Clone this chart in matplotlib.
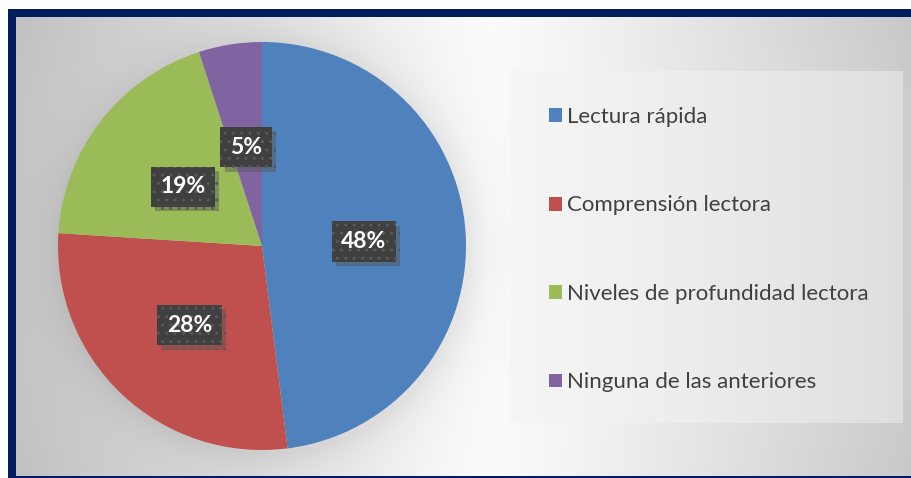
import numpy as np
import matplotlib
matplotlib.use("Agg")
import matplotlib.pyplot as plt
from matplotlib.patches import Patch
import matplotlib.patheffects as pe

categories = ["Lectura rápida", "Comprensión lectora",
              "Niveles de profundidad lectora", "Ninguna de las anteriores"]
values = [48, 28, 19, 5]
colors = ["#4f81bd", "#c0504d", "#9bbb59", "#8064a2"]

W, H = 912, 478
fig = plt.figure(figsize=(W / 100, H / 100), dpi=100)
plt.rcParams['font.family'] = ['Lato', 'DejaVu Sans']

def fx(x): return x / W
def fy(y): return 1 - y / H

cx, cy, r = 262, 246, 204

# full-canvas background: white margin, navy frame, gradient fill
yy, xx = np.mgrid[0:H, 0:W].astype(float)
dx = np.abs(xx - 490) / 470
dy = np.abs(yy - 246) / 240
val = 0.985 - 0.20 * np.clip(dx, 0, 1) ** 1.15 - 0.03 * dy ** 2 * dx
dist = np.sqrt((xx - cx - 3) ** 2 + (yy - cy - 4) ** 2) - r
val -= 0.075 * np.exp(-np.clip(dist, 0, None) / 22.0)
lx0, lx1, ly0, ly1 = 511, 903, 71, 423
inbox = (xx >= lx0) & (xx < lx1) & (yy >= ly0) & (yy < ly1)
lv = 0.96 - 0.09 * ((xx - lx0) / (lx1 - lx0)) ** 1.3
val = np.where(inbox, lv, val)
img = np.clip(np.dstack([val, val, val]), 0, 1)
navy = np.array([0x00, 0x1e, 0x5e]) / 255
frame = (xx >= 8) & (yy >= 9) & ~((xx >= 16) & (yy >= 17) & (yy < 476))
img[frame] = navy
img[(xx < 8) | (yy < 9)] = 1.0
fig.figimage(img, xo=0, yo=0, origin="upper", zorder=1)

# pie
ax = fig.add_axes([fx(cx - r), fy(cy + r), 2 * r / W, 2 * r / H], zorder=3)
wedges, _ = ax.pie(values, colors=colors, startangle=90, counterclock=False,
                   wedgeprops=dict(linewidth=0))
ax.set_xlim(-1, 1)
ax.set_ylim(-1, 1)
ax.set_aspect("auto")

label_r = [0.50, 0.52, 0.49, 0.50]
total = sum(values)
start = 90
for v, rr in zip(values, label_r):
    mid = start - v / total * 360 / 2
    start -= v / total * 360
    t = ax.text(rr * np.cos(np.radians(mid)), rr * np.sin(np.radians(mid)),
                f"{v}%", ha="center", va="center_baseline", color="white",
                fontsize=16.5, fontweight="bold",
                bbox=dict(boxstyle="square,pad=0.42", fc="#404040", ec="#595959",
                          lw=0, hatch=".."))
    t.get_bbox_patch().set_path_effects(
        [pe.SimplePatchShadow(offset=(3, -3), alpha=0.45, shadow_rgbFace="#555555"), pe.Normal()])

handles = [Patch(facecolor=c, edgecolor="none") for c in colors]
leg = fig.legend(handles, categories, loc="upper left",
                 bbox_to_anchor=(fx(549), fy(107)), frameon=False,
                 fontsize=16, labelcolor="#404040",
                 handlelength=0.58, handleheight=0.58, handletextpad=0.24,
                 labelspacing=3.08, borderaxespad=0, borderpad=0)
leg.set_zorder(5)

fig.savefig("out.png", dpi=100)
